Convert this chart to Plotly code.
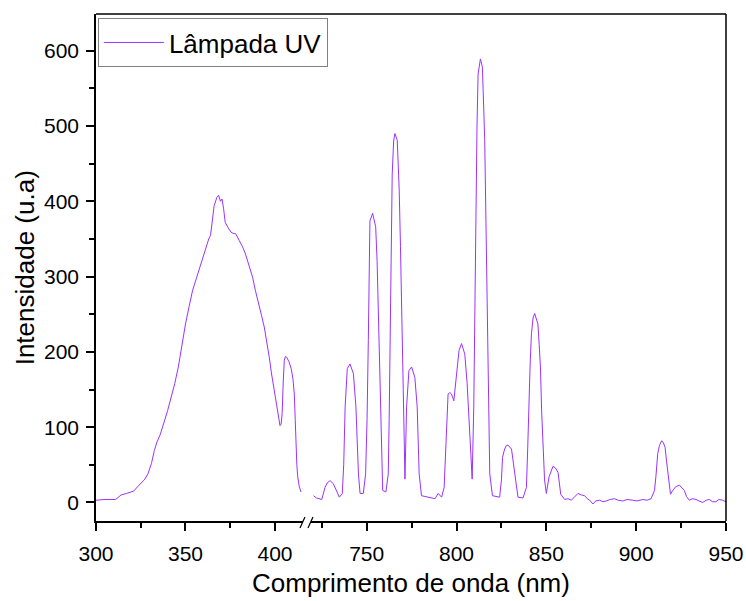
import plotly.graph_objects as go

# ---------------- data ----------------
uv_nm = [300, 305, 311, 314, 317, 321, 324, 327, 329, 331, 332.6, 334, 336, 338, 340, 342, 344, 346, 347.5, 349,
         350, 352, 354, 356, 357.7, 359.5, 361.5, 363, 364, 365, 366, 367.5, 368.5, 369.5, 370.4, 371.3, 372.2, 373.8, 375.4, 377,
         378, 380, 382, 383.5, 384.7, 386, 387.5, 389, 391, 392.5, 394, 395.5, 396.8, 398, 399.6, 400.6, 401.5, 402.3, 402.8, 403.4,
         404, 404.6, 405.2, 405.9, 406.5, 407.8, 409, 410, 410.8, 411.3, 411.7, 412.2, 412.7, 413.5, 414.5]
uv_int = [3, 4, 4, 10, 12, 15, 23, 30, 38, 52, 69, 80, 91, 106, 122, 140, 158, 180, 202, 220,
          237, 260, 282, 297, 310, 325, 339, 350, 355, 375, 394, 405, 408, 400, 403, 390, 372, 365, 359, 357,
          357, 348, 339, 330, 321, 310, 299, 282, 264, 248, 233, 214, 193, 172, 149, 135, 122, 110, 102, 104,
          118, 160, 189, 194, 193, 187, 178, 165, 144, 110, 73, 50, 34, 22, 14]

vis_nm = [720.4, 722, 725, 726.8, 728, 729.6, 731.4, 733.3, 734.8, 736.4,
          737.2, 738, 739.2, 740.7, 742.6, 744, 744.8, 745.4, 746.3, 748.1,
          749.4, 750.2, 750.9, 751.4, 751.8, 753.3, 755, 755.8, 756.5, 757.8,
          758.4, 758.9, 760.7, 762, 762.5, 763, 763.6, 764.2, 765, 765.7,
          767, 768.1, 768.8, 769.4, 770.4, 771.3, 772.2, 773.5, 775, 776.8,
          778.1, 779.2, 780.5, 782, 784.2, 786, 788, 789.8, 791.7, 793.1,
          794.4, 795.3, 796.3, 797.2, 798.5, 800, 801.4, 802.8, 804.6, 805.9,
          807.4, 808.7, 809.6, 810.2, 810.7, 811.4, 812, 813.3, 814.4, 815,
          815.7, 816.4, 817, 817.8, 818.5, 820, 822, 824, 825, 825.6,
          826.8, 827.8, 828.7, 830.6, 831.5, 832.4, 833.3, 834.2, 837, 838.9,
          839.6, 840.3, 841, 841.7, 842.6, 843.5, 845.3, 846, 846.7, 847.4,
          848.1, 849, 850, 851.5, 853.7, 855, 856.5, 857.2, 858, 860.2,
          862, 863.9, 866, 867.6, 869.5, 871.3, 872.8, 874.1, 875.9, 877.5,
          879.6, 881.5, 883.3, 885.5, 888, 890, 892.6, 895, 898.1, 900.5,
          903.7, 906, 908.3, 910.2, 911, 912, 913, 914.2, 915.2, 916.1,
          916.9, 917.6, 918.4, 919.1, 920.4, 922, 924.1, 925.5, 926.8, 928,
          929.6, 931.5, 933.3, 935, 937, 939, 940.7, 942.5, 944.4, 946,
          948.1, 950]
vis_int = [9, 6, 4, 20, 26, 29, 25, 16, 7, 12,
           50, 127, 178, 184, 171, 127, 75, 38, 12, 12,
           38, 110, 215, 300, 374, 384, 366, 320, 259, 127,
           60, 16, 14, 38, 110, 215, 330, 436, 480, 490,
           481, 414, 340, 259, 127, 31, 127, 175, 180, 166,
           127, 38, 9, 8, 7, 6, 5, 12, 7, 20,
           105, 144, 146, 144, 135, 171, 202, 211, 197, 158,
           82, 31, 127, 260, 392, 500, 569, 589, 578, 540,
           481, 370, 259, 130, 38, 9, 8, 7, 30, 60,
           71, 76, 76, 71, 55, 38, 18, 7, 6, 20,
           70, 135, 185, 224, 245, 251, 237, 210, 180, 120,
           69, 30, 12, 34, 48, 46, 40, 25, 11, 4,
           5, 3, 8, 12, 10, 9, 5, 3, -2, 2,
           3, 1, 2, 4, 5, 3, 2, 4, 3, 2,
           4, 3, 5, 16, 35, 65, 76, 82, 79, 73,
           55, 38, 20, 11, 16, 21, 23, 20, 16, 8,
           3, 5, 4, 2, 0, 3, 4, 1, 1, 4,
           3, 1]

left_ticks = [300, 350, 400]
right_ticks = [750, 800, 850, 900, 950]
y_ticks = [0, 100, 200, 300, 400, 500, 600]

series_name = "Lâmpada UV"
x_title = "Comprimento de onda (nm)"
y_title = "Intensidade (u.a)"

# ---------------- figure ----------------
FONT = "Liberation Sans, Arial, sans-serif"
COLOR = "#9933FF"
TICK_SIZE = 21
TITLE_SIZE = 26

fig = go.Figure()
fig.add_trace(go.Scatter(x=uv_nm, y=uv_int, mode="lines", name=series_name,
                         line=dict(color=COLOR, width=1), xaxis="x", yaxis="y",
                         legendgroup="uv", showlegend=True))
fig.add_trace(go.Scatter(x=vis_nm, y=vis_int, mode="lines", name=series_name,
                         line=dict(color=COLOR, width=1), xaxis="x2", yaxis="y",
                         legendgroup="uv", showlegend=False))

axis_common = dict(showline=True, linecolor="black", linewidth=1.5, ticks="outside",
                   ticklen=8, tickwidth=1.5, tickcolor="black", showgrid=False, zeroline=False,
                   ticklabelstandoff=5, automargin=False,
                   tickfont=dict(family=FONT, size=TICK_SIZE, color="black"), anchor="y")

fig.update_layout(
    width=746, height=601, autosize=False,
    margin=dict(l=96, r=20, t=14, b=80, autoexpand=False),
    paper_bgcolor="white", plot_bgcolor="white",
    font=dict(family=FONT, color="black"),
    xaxis=dict(domain=[0, 0.329], range=[300, 415.8], tickmode="array", tickvals=left_ticks,
               minor=dict(ticks="outside", ticklen=5, tickwidth=1.5, tickcolor="black", tick0=300, dtick=25),
               **axis_common),
    xaxis2=dict(domain=[0.341, 1], range=[718.9, 950], tickmode="array", tickvals=right_ticks,
                minor=dict(ticks="outside", ticklen=5, tickwidth=1.5, tickcolor="black", tick0=725, dtick=25),
                **axis_common),
    yaxis=dict(range=[-24.6, 648.7], tickmode="array", tickvals=y_ticks,
               showline=True, linecolor="black", linewidth=1.5, ticks="outside", ticklen=8,
               tickwidth=1.5, tickcolor="black", showgrid=False, zeroline=False, ticklabelstandoff=3,
               automargin=False,
               minor=dict(ticks="outside", ticklen=5, tickwidth=1.5, tickcolor="black", tick0=0, dtick=50),
               tickfont=dict(family=FONT, size=TICK_SIZE, color="black"), anchor="x"),
    legend=dict(x=0.003, y=0.992, xanchor="left", yanchor="top", bgcolor="white",
                bordercolor="#808080", borderwidth=1, itemwidth=60,
                font=dict(family=FONT, size=TITLE_SIZE, color="black")),
    showlegend=True,
)

# frame (top and right) and axis-break marks
fig.add_shape(type="line", xref="paper", yref="paper", x0=0, x1=1, y0=1, y1=1,
              line=dict(color="black", width=1.5))
fig.add_shape(type="line", xref="paper", yref="paper", x0=1, x1=1, y0=0, y1=1,
              line=dict(color="black", width=1.5))
for xs in (0.3238, 0.3365):
    fig.add_shape(type="line", xref="paper", yref="paper", x0=xs, x1=xs + 0.0079,
                  y0=-0.0138, y1=0.0079, line=dict(color="black", width=1.2))

fig.add_annotation(text=x_title, xref="paper", yref="paper", x=0.5, y=-0.122,
                   xanchor="center", yanchor="middle", showarrow=False,
                   font=dict(family=FONT, size=TITLE_SIZE, color="black"))
fig.add_annotation(text=y_title, xref="paper", yref="paper", x=-0.113, y=0.5,
                   xanchor="center", yanchor="middle", showarrow=False, textangle=-90,
                   font=dict(family=FONT, size=TITLE_SIZE, color="black"))

fig.write_html("out.html", config={"displayModeBar": False},
               post_script="document.body.style.margin='0';document.body.style.overflow='hidden';")
